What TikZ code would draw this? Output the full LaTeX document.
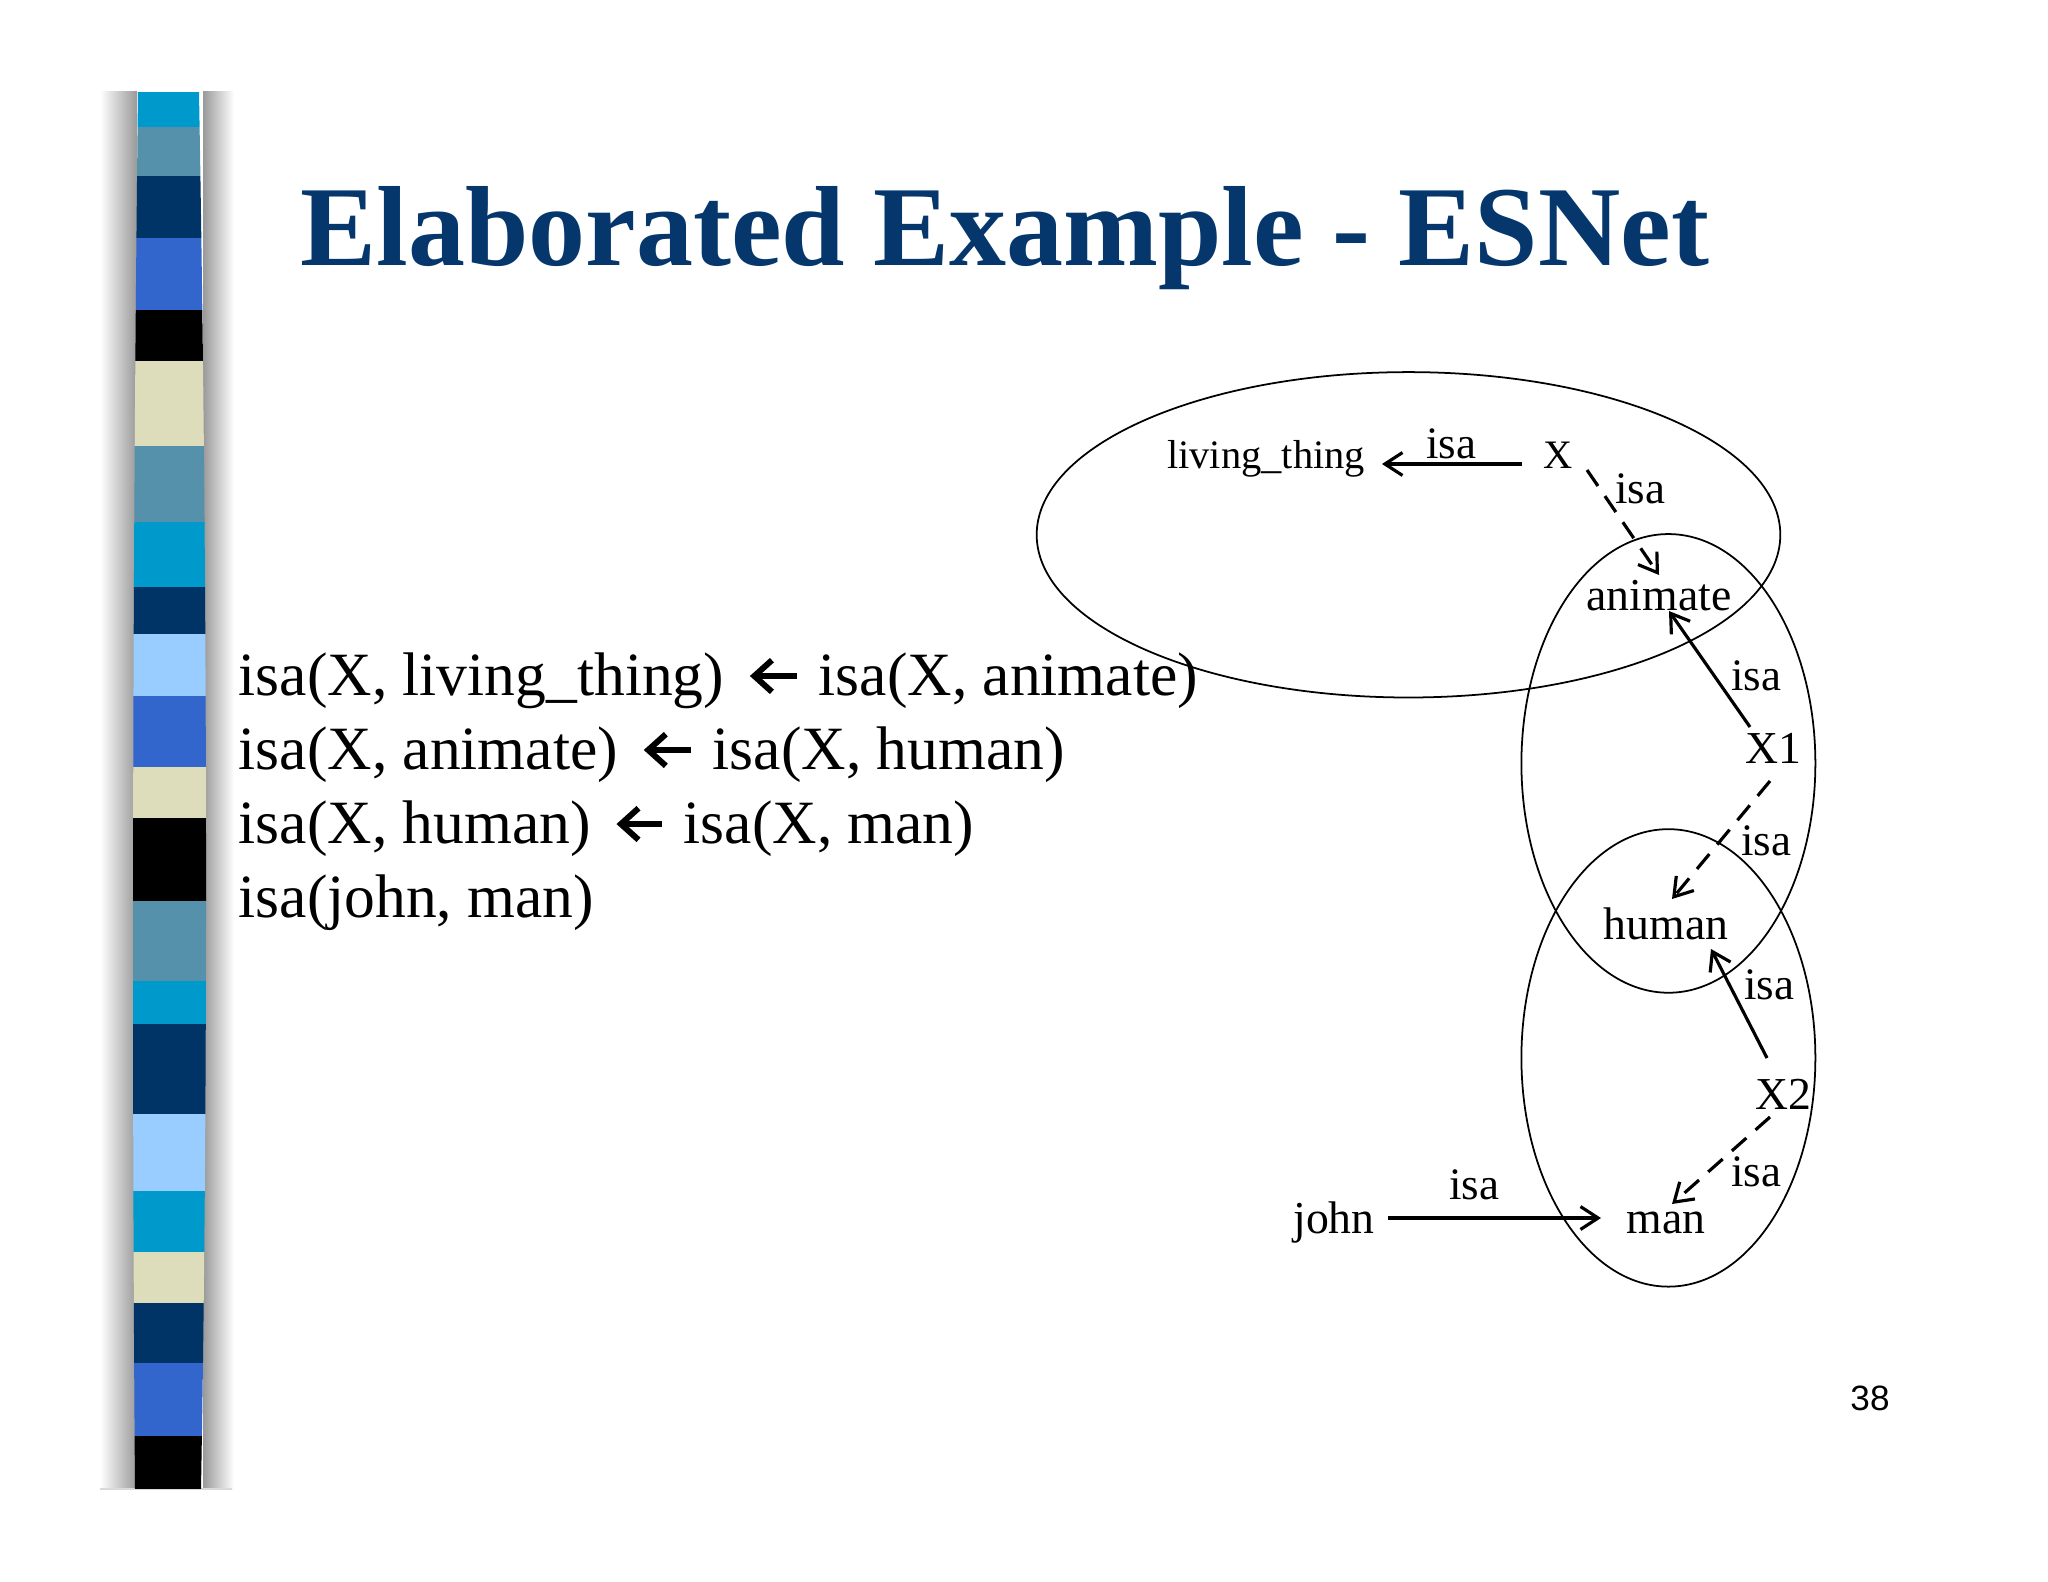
\documentclass[tikz,border=0pt]{standalone}
\usepackage{fontspec}
\setmainfont{Liberation Serif}
\newfontfamily\numfont{Liberation Sans}
\usetikzlibrary{arrows.meta}

\definecolor{titleblue}{RGB}{5,55,108}
\definecolor{barcyan}{RGB}{0,153,204}
\definecolor{barsteel}{RGB}{85,145,170}
\definecolor{barnavy}{RGB}{0,51,102}
\definecolor{barroyal}{RGB}{51,102,204}
\definecolor{barpale}{RGB}{221,221,187}
\definecolor{barlight}{RGB}{153,204,255}

\begin{document}
\begin{tikzpicture}[x=0.01cm, y=-0.01cm,
    lbl/.style={font=\fontsize{13}{15}\selectfont, inner sep=0pt, text height=6pt, text depth=3.2pt},
    toplbl/.style={lbl, font=\fontsize{11.5}{13}\selectfont},
    isalbl/.style={font=\fontsize{12.8}{15}\selectfont, inner sep=0pt, anchor=base},
    rule/.style={font=\fontsize{17.5}{21}\selectfont, inner sep=0pt, anchor=base west, text height=14pt, text depth=3.2pt},
    isa/.style={line width=0.9pt, -{Straight Barb[length=5pt,width=6.5pt]}},
    isadash/.style={isa, dash pattern=on 5.5pt off 3.5pt},
    implies/.style={line width=1.7pt, -{Straight Barb[length=5pt,width=9pt]}, shorten <=0.21cm, shorten >=0.25cm}]
    \useasboundingbox (0,0) rectangle (2048,1582);
    \fill[white] (0,0) rectangle (2048,1582);

    % side bar
    \shade[left color=white, right color=black!40] (100,92) rectangle (137,1489);
    \shade[left color=black!40, right color=white] (203,92) rectangle (234,1489);
    \draw[black!15] (100,1489) -- (232,1489);
    \begin{scope}
      \clip (138,92) .. controls (132,600) and (132,1100) .. (135,1489) -- (201,1489) .. controls (208,1100) and (208,600) .. (199,92) -- cycle;
      \fill[barcyan] (120,92) rectangle (220,127);
      \fill[barsteel] (120,127) rectangle (220,176);
      \fill[barnavy] (120,176) rectangle (220,238);
      \fill[barroyal] (120,238) rectangle (220,310);
      \fill[black] (120,310) rectangle (220,361);
      \fill[barpale] (120,361) rectangle (220,446);
      \fill[barsteel] (120,446) rectangle (220,522);
      \fill[barcyan] (120,522) rectangle (220,587);
      \fill[barnavy] (120,587) rectangle (220,634);
      \fill[barlight] (120,634) rectangle (220,696);
      \fill[barroyal] (120,696) rectangle (220,767);
      \fill[barpale] (120,767) rectangle (220,818);
      \fill[black] (120,818) rectangle (220,901);
      \fill[barsteel] (120,901) rectangle (220,981);
      \fill[barcyan] (120,981) rectangle (220,1024);
      \fill[barnavy] (120,1024) rectangle (220,1114);
      \fill[barlight] (120,1114) rectangle (220,1191);
      \fill[barcyan] (120,1191) rectangle (220,1252);
      \fill[barpale] (120,1252) rectangle (220,1303);
      \fill[barnavy] (120,1303) rectangle (220,1363);
      \fill[barroyal] (120,1363) rectangle (220,1436);
      \fill[black] (120,1436) rectangle (220,1489);
    \end{scope}

    \node[anchor=base west, inner sep=0pt, text=titleblue, font=\fontsize{32.4}{38}\selectfont\bfseries] (title) at (300,266) {Elaborated Example - ESNet};

    % rules
    \node[rule] (ruleAl) at (238,695) {isa(X, living\_thing)};
    \node[rule] (ruleAr) at (818,695) {isa(X, animate)};
    \node[rule] (ruleBl) at (238,769) {isa(X, animate)};
    \node[rule] (ruleBr) at (712,769) {isa(X, human)};
    \node[rule] (ruleCl) at (238,843) {isa(X, human)};
    \node[rule] (ruleCr) at (683,843) {isa(X, man)};
    \node[rule] (ruleD) at (238,917) {isa(john, man)};
    \draw[implies] (ruleAr.west) -- (ruleAl.east);
    \draw[implies] (ruleBr.west) -- (ruleBl.east);
    \draw[implies] (ruleCr.west) -- (ruleCl.east);

    % net
    \draw[line width=0.5pt] (1408.5,534.8) ellipse [x radius=3.716cm, y radius=1.626cm];
    \draw[line width=0.5pt] (1668.4,763.4) ellipse [x radius=1.469cm, y radius=2.292cm];
    \draw[line width=0.5pt] (1668.4,1057.9) ellipse [x radius=1.469cm, y radius=2.286cm];

    \node[toplbl] (lthing) at (1266,464) {living\_thing};
    \node[toplbl] (xnode) at (1558,464) {X};
    \node[lbl] (animate) at (1659,606) {animate};
    \node[lbl] (xone) at (1773,759) {X1};
    \node[lbl] (human) at (1666,935) {human};
    \node[lbl] (xtwo) at (1783,1105) {X2};
    \node[lbl] (man) at (1666,1229) {man};
    \node[lbl] (john) at (1334,1229) {john};

    \draw[isa] ([shift={(-36,0)}]xnode.center) -- ([shift={(116,0)}]lthing.center);
    \draw[isadash] ([shift={(29,6)}]xnode.center) -- ([shift={(0,-31)}]animate.center);
    \draw[isa] ([shift={(-23,-32)}]xone.center) -- ([shift={(10,5)}]animate.center);
    \draw[isadash] ([shift={(-3,22)}]xone.center) -- ([shift={(6,-36)}]human.center);
    \draw[isa] ([shift={(-16,-47)}]xtwo.center) -- ([shift={(45,14)}]human.center);
    \draw[isadash] ([shift={(-13,12)}]xtwo.center) -- ([shift={(6,-25)}]man.center);
    \draw[isa] ([shift={(54,-11)}]john.center) -- ([shift={(-65,-11)}]man.center);

    \node[isalbl] (isaA) at (1451,458) {isa};
    \node[isalbl] (isaB) at (1640,503) {isa};
    \node[isalbl] (isaC) at (1756,690) {isa};
    \node[isalbl] (isaD) at (1766,855) {isa};
    \node[isalbl] (isaE) at (1769,999) {isa};
    \node[isalbl] (isaF) at (1756,1186) {isa};
    \node[isalbl] (isaG) at (1474,1199) {isa};

    \node[font=\numfont\fontsize{10}{12}\selectfont, anchor=base, inner sep=0pt] (pagenum) at (1870,1410) {38};
  \end{tikzpicture}
\end{document}
